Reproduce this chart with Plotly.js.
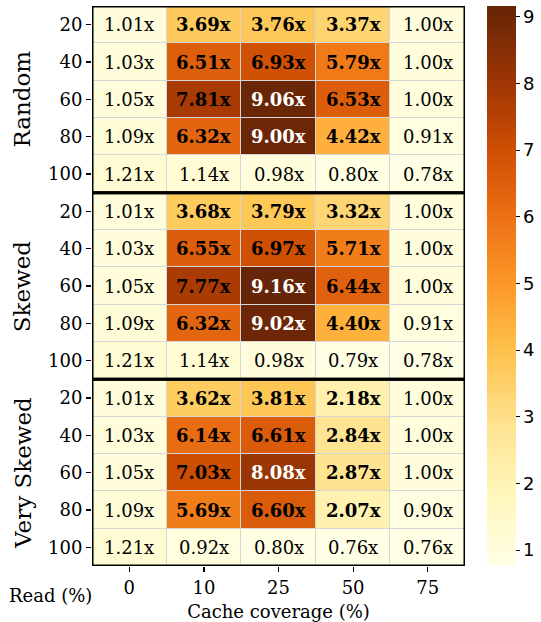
<!DOCTYPE html>
<html>
<head>
<meta charset="utf-8">
<script src="https://cdn.plot.ly/plotly-3.0.1.min.js"></script>
<style>html,body{margin:0;padding:0;background:#fff;}#chart{width:541px;height:622px;}</style>
</head>
<body>
<div id="chart"></div>
<script>
const groups = ["Random", "Skewed", "Very Skewed"];
const readLabels = ["20", "40", "60", "80", "100"];
const coverageLabels = ["0", "10", "25", "50", "75"];

const randomVals = [
  [1.01, 3.69, 3.76, 3.37, 1.00],
  [1.03, 6.51, 6.93, 5.79, 1.00],
  [1.05, 7.81, 9.06, 6.53, 1.00],
  [1.09, 6.32, 9.00, 4.42, 0.91],
  [1.21, 1.14, 0.98, 0.80, 0.78]
];
const skewedVals = [
  [1.01, 3.68, 3.79, 3.32, 1.00],
  [1.03, 6.55, 6.97, 5.71, 1.00],
  [1.05, 7.77, 9.16, 6.44, 1.00],
  [1.09, 6.32, 9.02, 4.40, 0.91],
  [1.21, 1.14, 0.98, 0.79, 0.78]
];
const verySkewedVals = [
  [1.01, 3.62, 3.81, 2.18, 1.00],
  [1.03, 6.14, 6.61, 2.84, 1.00],
  [1.05, 7.03, 8.08, 2.87, 1.00],
  [1.09, 5.69, 6.60, 2.07, 0.90],
  [1.21, 0.92, 0.80, 0.76, 0.76]
];

const groupVals = [randomVals, skewedVals, verySkewedVals];
const z = [];
const yIdx = [];
const yText = [];
groupVals.forEach((g) => g.forEach((row, r) => {
  yIdx.push(z.length);
  yText.push(readLabels[r]);
  z.push(row);
}));
const xIdx = coverageLabels.map((_, i) => i);

const YlOrBr = ["#ffffe5","#fff7bc","#fee391","#fec44f","#fe9929","#ec7014","#cc4c02","#993404","#662506"];
const colorscale = YlOrBr.map((c, i) => [i / (YlOrBr.length - 1), c]);

const zmin = 0.76, zmax = 9.16;
const serif = "DejaVu Serif";
const fs = 18;

const annotations = [];
z.forEach((row, r) => row.forEach((v, c) => {
  const txt = v.toFixed(2) + "x";
  annotations.push({
    x: c, y: r, xref: "x", yref: "y",
    text: v >= 2 ? "<b>" + txt + "</b>" : txt,
    showarrow: false,
    font: {family: serif, size: fs, color: v > 8 ? "#ffffff" : "#000000"}
  });
}));
groups.forEach((g, gi) => {
  annotations.push({
    x: -0.187, xref: "paper", xanchor: "center",
    y: gi * 5 + 2, yref: "y", yanchor: "middle",
    text: g, textangle: -90, showarrow: false,
    font: {family: serif, size: 23, color: "#000"}
  });
});
annotations.push({
  x: -0.112, xref: "paper", xanchor: "center",
  y: -0.052, yref: "paper", yanchor: "middle",
  text: "Read (%)", showarrow: false,
  font: {family: serif, size: fs, color: "#000"}
});

const shapes = groups.map((g, gi) => ({
  type: "rect", xref: "x", yref: "y",
  x0: -0.5, x1: 4.5, y0: gi * 5 - 0.5, y1: gi * 5 + 4.5,
  line: {color: "#000", width: 3}
}));

const trace = {
  type: "heatmap",
  z: z, x: xIdx, y: yIdx,
  colorscale: colorscale, zmin: zmin, zmax: zmax,
  xgap: 1, ygap: 1,
  hoverinfo: "skip",
  colorbar: {
    x: 1.0587, xanchor: "left", xpad: 0,
    y: 0.5, yanchor: "middle", len: 1.0, ypad: 0,
    thickness: 29, outlinewidth: 0,
    tickvals: [1,2,3,4,5,6,7,8,9],
    ticks: "outside", ticklen: 4, tickcolor: "#000",
    tickfont: {family: "DejaVu Sans", size: fs, color: "#000"}
  }
};

const layout = {
  width: 541, height: 622,
  margin: {l: 92, r: 74, t: 6, b: 56},
  paper_bgcolor: "#fff",
  plot_bgcolor: "#d6d6d6",
  xaxis: {
    tickvals: xIdx, ticktext: coverageLabels,
    range: [-0.5, 4.5], showgrid: false, zeroline: false, showline: false,
    ticks: "outside", ticklen: 5, tickwidth: 1.2, tickcolor: "#000",
    tickfont: {family: serif, size: fs, color: "#000"},
    title: {text: "Cache coverage (%)", font: {family: serif, size: fs, color: "#000"}, standoff: 9}
  },
  yaxis: {
    tickvals: yIdx, ticktext: yText,
    range: [14.5, -0.5], showgrid: false, zeroline: false, showline: false,
    ticks: "outside", ticklen: 5, tickwidth: 1.2, tickcolor: "#000",
    tickfont: {family: serif, size: fs, color: "#000"}
  },
  annotations: annotations,
  shapes: shapes,
  showlegend: false
};

Plotly.newPlot("chart", [trace], layout, {displayModeBar: false, staticPlot: true});
</script>
</body>
</html>
